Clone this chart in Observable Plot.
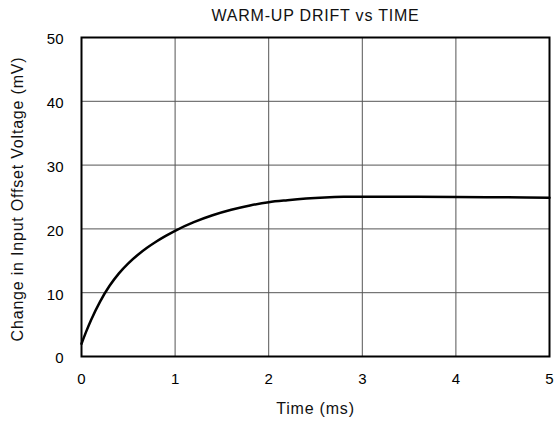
<!DOCTYPE html>
<html><head><meta charset="utf-8">
<script src="https://cdn.jsdelivr.net/npm/d3@7"></script>
<script src="https://cdn.jsdelivr.net/npm/@observablehq/plot@0.6"></script>
<style>
body{margin:0;background:#fff;}
svg{font-family:"Liberation Sans",Arial,Helvetica,sans-serif;}
</style>
</head><body><div id="chart"></div>
<script>
const timeMs  = [0, 0.05, 0.1, 0.2, 0.3, 0.4, 0.5, 0.6, 0.7, 0.8, 0.9, 1.0, 1.2, 1.4, 1.6, 1.8, 2.0, 2.2, 2.4, 2.6, 2.8, 3.0, 3.5, 4.0, 4.5, 5.0];
const driftMv = [2.0, 3.9, 5.65, 8.65, 11.08, 13.03, 14.6, 15.9, 17.03, 18.02, 18.9, 19.7, 21.05, 22.13, 22.99, 23.67, 24.19, 24.5, 24.75, 24.92, 25.02, 25.05, 25.03, 25.0, 24.95, 24.9];
const xTicks = [0, 1, 2, 3, 4, 5];
const yTicks = [0, 10, 20, 30, 40, 50];
const title = "WARM-UP DRIFT vs TIME";
const xLabel = "Time (ms)";
const yLabel = "Change in Input Offset Voltage (mV)";

const data = timeMs.map((t, i) => ({t, v: driftMv[i]}));

const chart = Plot.plot({
  width: 557,
  height: 423,
  marginLeft: 81,
  marginRight: 8,
  marginTop: 37,
  marginBottom: 67,
  style: {fontFamily: '"Liberation Sans", Arial, sans-serif', fontSize: "15px", color: "#000", background: "#fff"},
  x: {domain: [0, 5]},
  y: {domain: [0, 50]},
  marks: [
    Plot.gridX(xTicks, {stroke: "#555", strokeOpacity: 1, strokeWidth: 1}),
    Plot.gridY(yTicks, {stroke: "#555", strokeOpacity: 1, strokeWidth: 1}),
    Plot.axisX(xTicks, {tickSize: 0, tickPadding: 17, fontSize: 15, label: null}),
    Plot.axisY(yTicks, {tickSize: 0, tickPadding: 18, fontSize: 15, label: null, dy: 2}),
    Plot.line(data, {x: "t", y: "v", curve: "monotone-x", stroke: "#000", strokeWidth: 2.5}),
    Plot.frame({stroke: "#000", strokeWidth: 2}),
    Plot.text([title], {frameAnchor: "top", lineAnchor: "middle", textAnchor: "middle", dy: -21.5, fontSize: 16, fill: "#111"}),
    Plot.text([xLabel], {frameAnchor: "bottom", lineAnchor: "middle", textAnchor: "middle", dy: 52, fontSize: 16, fill: "#111"}),
    Plot.text([yLabel], {frameAnchor: "left", lineAnchor: "middle", textAnchor: "middle", dx: -64, dy: 2, rotate: -90, fontSize: 16, fill: "#111"})
  ]
});
d3.select(chart).selectAll("g[aria-label='text'] text").style("letter-spacing", "0.8px");
document.getElementById("chart").appendChild(chart);
</script>
</body></html>
